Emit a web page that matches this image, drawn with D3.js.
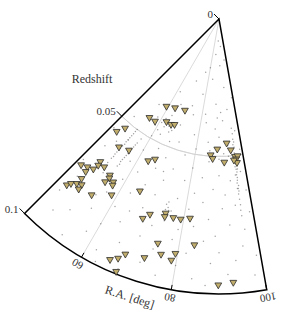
<!DOCTYPE html>
<html><head><meta charset="utf-8">
<script src="https://cdn.jsdelivr.net/npm/d3@7"></script>
<style>html,body{margin:0;padding:0;background:#fff;}svg{display:block;font-family:"Liberation Serif","Times New Roman",serif;}</style>
</head><body>
<svg id="c" width="296" height="322"></svg>
<script>
// ---- data ----
const raDomain = [45, 100];
const zDomain = [0, 0.1];
const raTicks = [60, 80, 100];
const raTickLabels = ["60", "80", "100"];
const zTicks = [0, 0.05, 0.1];
const zTickLabels = ["0", "0.05", "0.1"];
const raGrid = [60, 80];
const zGrid = [0.05];
const rAxisTitle = "Redshift";
const thetaAxisTitle = "R.A. [deg]";

// clusters (triangles): R.A. [deg], redshift
const clusterRA = [47.9,49.5,52.15,55.7,46.75,48.5,49.0,50.4,50.6,50.2,52.35,49.4,47.6,48.15,49.3,50.5,50.6,54.2,58.7,55.2,55.55,55.15,57.15,57.5,65.4,
  59.2,63.9,69.7,55.0,58.15,63.1,65.7,67.3,63.6,65.6,
  93.5,89.25,95.1,86.5,87.4,92.1,96.6,97.7,96.9,97.1,96.0,
  69.15,70.6,74.7,74.7,77.1,79.2,81.75,83.8,74.8,76.2,79.5,78.85,72.7,68.35,67.2,65.7,67.9,89.85,93.1];
const clusterZ = [0.0555,0.0526,0.0593,0.0581,0.0732,0.0722,0.0739,0.0677,0.0692,0.0714,0.0683,0.0768,0.0821,0.0807,0.0793,0.0785,0.0804,0.0792,0.0752,0.0695,0.0705,0.0725,0.0709,0.0720,0.0691,
  0.0373,0.0363,0.0357,0.0441,0.0441,0.0422,0.0424,0.0419,0.0579,0.0563,
  0.0455,0.0476,0.0481,0.0498,0.0511,0.0524,0.0506,0.0505,0.0516,0.0529,0.0519,
  0.0779,0.0756,0.0735,0.0748,0.0744,0.0744,0.0735,0.0829,0.0848,0.0884,0.0870,0.0897,0.0912,0.0923,0.0947,0.0963,0.0994,0.0970,0.0962];

// background galaxies: [R.A., redshift]
const galaxies = [
 [96.4,0.040],[96.6,0.042],[96.5,0.044],[96.3,0.046],[96.7,0.047],[96.5,0.049],[96.4,0.050],[96.8,0.051],[96.6,0.053],[96.2,0.054],
 [96.5,0.055],[96.7,0.056],[96.4,0.057],[96.6,0.058],[96.5,0.059],[96.3,0.060],[96.7,0.061],[96.5,0.062],[96.6,0.063],[96.4,0.064],
 [96.5,0.066],[96.6,0.068],[96.9,0.052],[96.1,0.050],[97.0,0.055],[96.0,0.057],[96.8,0.045],[96.2,0.062],[96.5,0.070],[96.6,0.072],
 [52.2,0.066],[52.3,0.064],[52.4,0.062],[52.5,0.061],[52.6,0.059],[52.8,0.058],[52.9,0.056],[53.0,0.055],[53.1,0.054],[53.2,0.053],
 [53.3,0.052],[53.4,0.051],[53.5,0.050],[52.7,0.060],[53.0,0.057],[52.5,0.063],[53.2,0.055],
 [55.3,0.065],[55.4,0.063],[55.5,0.062],[55.7,0.061],[55.8,0.060],[55.9,0.059],[56.0,0.058],[56.2,0.057],[56.3,0.056],[56.4,0.055],
 [56.6,0.054],[55.6,0.064],[56.1,0.059],
 [74.3,0.072],[74.6,0.073],[74.9,0.071],[74.5,0.075],[74.8,0.076],[75.1,0.074],[74.2,0.070],[74.7,0.069],[75.3,0.072],
 [88,0.008],[93,0.010],[85,0.013],[97,0.015],[80,0.018],[91,0.017],[76,0.020],
 [70,0.024],[84,0.022],[94,0.025],[62,0.030],[78,0.028],[88,0.031],[99,0.029],[66,0.034],[73,0.033],[91,0.034],[82,0.035],[95,0.033],
 [49,0.047],[55,0.038],[58,0.042],[61,0.046],[64,0.039],[67,0.044],[70,0.041],[72,0.047],[75,0.036],[78,0.043],[80,0.048],[83,0.038],
 [85,0.045],[88,0.040],[90,0.043],[92,0.037],[94,0.046],[98,0.041],[99,0.048],[60,0.049],[63,0.047],[68,0.048],[86,0.049],[89,0.036],
 [46,0.055],[48,0.062],[50,0.058],[58,0.061],[60,0.055],[62,0.063],[65,0.052],[67,0.059],[69,0.054],[71,0.062],[73,0.057],[76,0.051],
 [78,0.060],[80,0.055],[82,0.064],[84,0.058],[86,0.052],[88,0.062],[90,0.057],[92,0.064],[94,0.059],[98,0.056],[99,0.063],[57,0.052],
 [64,0.058],[70,0.059],
 [46,0.071],[48,0.077],[53,0.070],[57,0.075],[59,0.068],[61,0.078],[63,0.071],[66,0.066],[68,0.074],[70,0.068],[72,0.079],[77,0.067],
 [79,0.078],[81,0.070],[83,0.076],[85,0.067],[87,0.073],[89,0.079],[91,0.069],[93,0.075],[95,0.068],[97,0.077],[99,0.071],[55,0.078],
 [65,0.077],[76,0.072],
 [47,0.085],[49,0.092],[52,0.088],[54,0.097],[56,0.083],[58,0.091],[60,0.086],[62,0.095],[64,0.082],[66,0.089],[68,0.098],[70,0.084],
 [72,0.093],[74,0.087],[76,0.096],[78,0.082],[80,0.091],[82,0.086],[84,0.095],[86,0.081],[88,0.089],[90,0.085],[92,0.093],[94,0.088],
 [96,0.083],[98,0.094],[99,0.087],[51,0.081],[63,0.099],[87,0.097],
 [59,0.045],[61,0.043],[63,0.044],[65,0.043],[66,0.045],[62,0.041],
 [88,0.050],[90,0.051],[92,0.049],[94,0.050],[86,0.048]
];

// ---- layout ----
const ox = 219, oy = 19;
const rScale = d3.scaleLinear().domain(zDomain).range([0, 275]);
// d3 angle (clockwise from 12 o'clock), degrees
const aScale = d3.scaleLinear().domain(raDomain).range([225, 170]);
const rad = d => d * Math.PI / 180;
function pos(ra, z) {
  const a = rad(aScale(ra)), r = rScale(z);
  return [ox + r * Math.sin(a), oy - r * Math.cos(a)];
}

const svg = d3.select("#c");
const g = svg.append("g").attr("transform", `translate(${ox},${oy})`);

// grid
g.selectAll(".zgrid").data(zGrid).enter().append("path")
  .attr("d", z => d3.arc()({innerRadius: rScale(z), outerRadius: rScale(z), startAngle: rad(aScale(raDomain[1])), endAngle: rad(aScale(raDomain[0]))}))
  .attr("fill", "none").attr("stroke", "#d0d0d0").attr("stroke-width", 0.8);
g.selectAll(".tgrid").data(raGrid).enter().append("line")
  .attr("x1", 0).attr("y1", 0)
  .attr("x2", ra => rScale(zDomain[1]) * Math.sin(rad(aScale(ra))))
  .attr("y2", ra => -rScale(zDomain[1]) * Math.cos(rad(aScale(ra))))
  .attr("stroke", "#d0d0d0").attr("stroke-width", 0.8);

// background galaxies
svg.append("g").selectAll("circle").data(galaxies).enter().append("circle")
  .attr("cx", d => pos(d[0], d[1])[0]).attr("cy", d => pos(d[0], d[1])[1])
  .attr("r", 0.75).attr("fill", "#666").attr("fill-opacity", 0.6);

// frame
const R = rScale(zDomain[1]);
const frame = d3.path();
const a0 = rad(aScale(raDomain[0])), a1 = rad(aScale(raDomain[1]));
frame.moveTo(0, 0);
frame.lineTo(R * Math.sin(a0), -R * Math.cos(a0));
frame.arc(0, 0, R, a0 - Math.PI / 2, a1 - Math.PI / 2, true);
frame.closePath();
g.append("path").attr("d", frame.toString()).attr("fill", "none")
  .attr("stroke", "#000").attr("stroke-width", 1.5).attr("stroke-linejoin", "miter");

// theta ticks + labels
raTicks.forEach((ra, i) => {
  const a = rad(aScale(ra));
  const s = Math.sin(a), c = -Math.cos(a);
  g.append("line").attr("x1", R * s).attr("y1", R * c).attr("x2", (R - 5) * s).attr("y2", (R - 5) * c)
    .attr("stroke", "#000").attr("stroke-width", 1);
  const lx = (R + 8) * s, ly = (R + 8) * c;
  const thetaS = aScale(ra) - 90; // screen angle from +x, clockwise
  g.append("text").attr("x", lx).attr("y", ly)
    .attr("transform", `rotate(${180 + thetaS - 90},${lx},${ly})`)
    .attr("text-anchor", "middle").attr("dominant-baseline", "central")
    .attr("font-size", 11).attr("fill", "#333").text(raTickLabels[i]);
});

// radial ticks + labels along left edge
{
  const a = rad(aScale(raDomain[0]));
  const ex = Math.sin(a), ey = -Math.cos(a);
  const nx = -ey, ny = ex; // perpendicular outward (up-left)
  zTicks.forEach((z, i) => {
    const r = rScale(z);
    const px = r * ex, py = r * ey;
    const tx = px + 7 * nx, ty = py + 7 * ny;
    g.append("line").attr("x1", px).attr("y1", py).attr("x2", tx).attr("y2", ty)
      .attr("stroke", "#000").attr("stroke-width", 1);
    g.append("text").attr("x", tx - 1).attr("y", ty).attr("text-anchor", "end")
      .attr("dominant-baseline", "central").attr("font-size", 11).attr("fill", "#333").text(zTickLabels[i]);
  });
}

// axis titles
svg.append("text").attr("x", 92).attr("y", 79).attr("text-anchor", "middle")
  .attr("dominant-baseline", "central").attr("font-size", 12).attr("fill", "#333").text(rAxisTitle);
{
  const ra = 72.2;
  const a = rad(aScale(ra));
  const lx = ox + (R + 17) * Math.sin(a), ly = oy - (R + 17) * Math.cos(a);
  const thetaS = aScale(ra) - 90;
  svg.append("text").attr("x", lx).attr("y", ly)
    .attr("transform", `rotate(${thetaS - 90},${lx},${ly})`)
    .attr("text-anchor", "middle").attr("dominant-baseline", "central")
    .attr("font-size", 12).attr("fill", "#333").text(thetaAxisTitle);
}

// clusters
const tri = "M-3.4,-2.8L3.4,-2.8L0,3.1Z";
svg.append("g").selectAll("path").data(clusterRA.map((ra, i) => [ra, clusterZ[i]])).enter().append("path")
  .attr("d", tri)
  .attr("transform", d => { const p = pos(d[0], d[1]); return `translate(${p[0]},${p[1]})`; })
  .attr("fill", "#c2ae6c").attr("stroke", "#2b2b2b").attr("stroke-width", 0.8);
</script>
</body></html>
